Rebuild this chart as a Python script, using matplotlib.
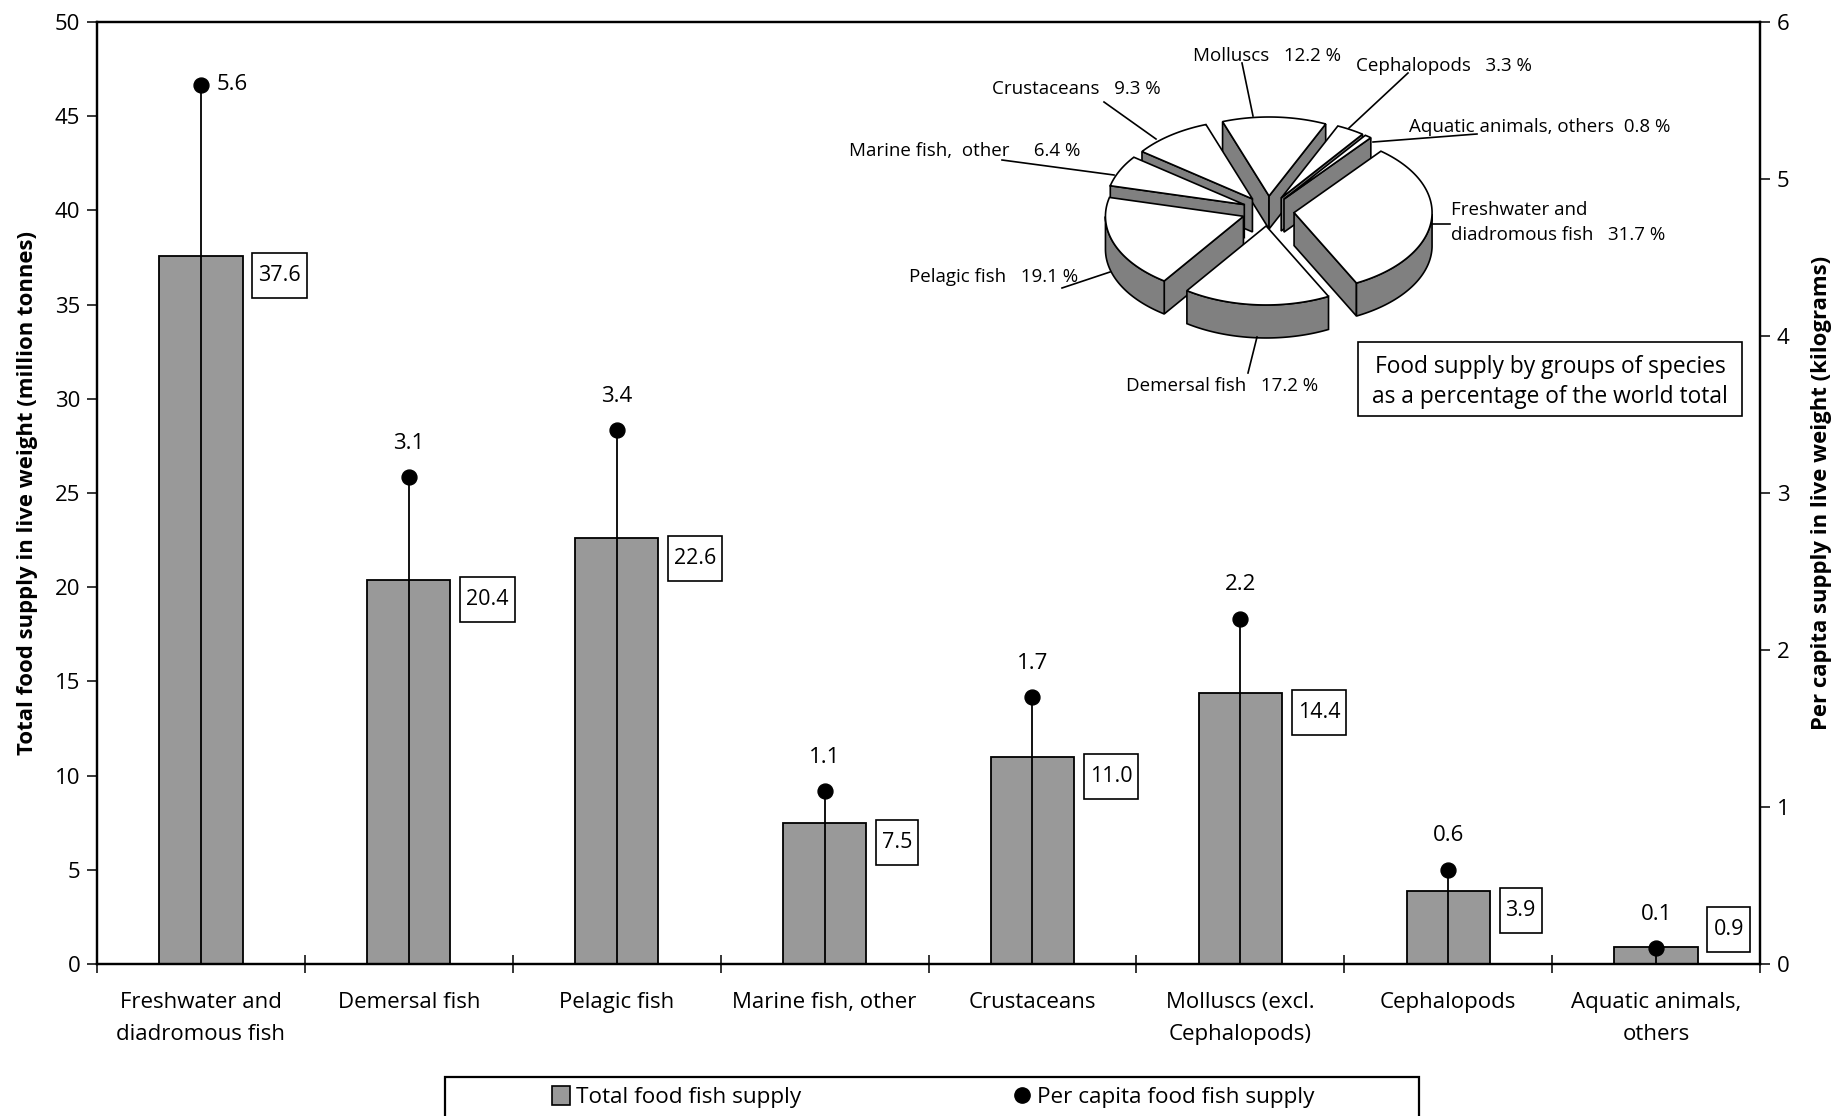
import numpy as np
import matplotlib
matplotlib.use('Agg')
import matplotlib.pyplot as plt
from matplotlib.patches import Polygon, Rectangle
from matplotlib.lines import Line2D
from matplotlib.path import Path

categories = ['Freshwater and\ndiadromous fish', 'Demersal fish', 'Pelagic fish', 'Marine fish, other',
              'Crustaceans', 'Molluscs (excl.\nCephalopods)', 'Cephalopods', 'Aquatic animals,\nothers']
total_supply = [37.6, 20.4, 22.6, 7.5, 11.0, 14.4, 3.9, 0.9]
per_capita = [5.6, 3.1, 3.4, 1.1, 1.7, 2.2, 0.6, 0.1]
pie_shares = [31.7, 17.2, 19.1, 6.4, 9.3, 12.2, 3.3, 0.8]
total_ticks = [0, 5, 10, 15, 20, 25, 30, 35, 40, 45, 50]
capita_ticks = [0, 1, 2, 3, 4, 5, 6]

plt.rcParams['font.family'] = ['Open Sans', 'DejaVu Sans']
W, H = 1836, 1116
BAR_GREY = '#999999'
WALL_GREY = '#808080'


def tall_box(x0, y0, width, height, mutation_size):
    # the value boxes are narrower and taller than a square pad gives
    px, py = 0.28 * mutation_size, 0.56 * mutation_size
    x0, y0, x1, y1 = x0 - px, y0 - py, x0 + width + px, y0 + height + py
    return Path([(x0, y0), (x1, y0), (x1, y1), (x0, y1), (x0, y0)], closed=True)


fig = plt.figure(figsize=(W / 100, H / 100), dpi=100)
ax = fig.add_axes([97 / W, 1 - 964 / H, 1663 / W, 942 / H])
x = np.arange(len(categories))

bars = ax.bar(x, total_supply, width=0.4, color=BAR_GREY, edgecolor='black', linewidth=1.3, zorder=2)
ax.set_xlim(-0.5, 7.5)
ax.set_ylim(0, 50)
ax.set_yticks(total_ticks)
ax.set_xticks(x, categories, fontsize=16, linespacing=1.7)
ax.set_xticks(np.arange(-0.5, 8), minor=True)
ax.tick_params(axis='x', which='major', length=0, pad=20)
ax.tick_params(axis='x', which='minor', length=13, width=1.1, direction='inout')
ax.tick_params(axis='y', length=7, width=1.1, labelsize=16, pad=5)
ax.set_ylabel('Total food supply in live weight (million tonnes)', fontsize=15.9, fontweight='bold')
ax.yaxis.set_label_coords(-0.0355, 0.5)
for s in ax.spines.values():
    s.set_linewidth(1.6)

# boxed totals beside each bar
for i, v in enumerate(total_supply):
    off = 12.6 if v < 1 else -14.4
    ax.annotate(f'{v:.1f}', xy=(i + 0.276, v), xytext=(0, off), textcoords='offset points',
                ha='left', va='center', fontsize=15.5, zorder=3,
                bbox=dict(boxstyle=tall_box, fc='white', ec='black', lw=1.2))

ax2 = ax.twinx()
ax2.set_ylim(0, 6)
ax2.set_yticks(capita_ticks)
ax2.tick_params(axis='y', length=7, width=1.1, labelsize=16, pad=5)
ax2.set_ylabel('Per capita supply in live weight (kilograms)', fontsize=15.9, fontweight='bold')
ax2.yaxis.set_label_coords(1.0305, 0.5)
for s in ax2.spines.values():
    s.set_linewidth(1.6)
ax2.vlines(x, 0, per_capita, color='black', linewidth=1.3, zorder=3)
dots = ax2.scatter(x, per_capita, s=115, color='black', zorder=4, clip_on=False)
for i, v in enumerate(per_capita):
    if i == 0:
        ax2.annotate(f'{v:.1f}', xy=(i, v), xytext=(11, 0), textcoords='offset points',
                     ha='left', va='center', fontsize=16)
    else:
        ax2.annotate(f'{v:.1f}', xy=(i, v), xytext=(0, 24.5), textcoords='offset points',
                     ha='center', va='center', fontsize=16)

# overlay in pixel coordinates for the pie inset and the legend frame
ov = fig.add_axes([0, 0, 1, 1], facecolor='none')
ov.set_xlim(0, W)
ov.set_ylim(H, 0)
ov.axis('off')

cx, cy, rx, ry, depth, explode = 1268, 211, 138, 79, 33, 0.19
start = 51.0
edges = start - np.cumsum([0] + pie_shares) * 3.6
slices = []
for i in range(len(pie_shares)):
    a0, a1 = edges[i], edges[i + 1]
    mid = np.radians((a0 + a1) / 2)
    ox = cx + explode * rx * np.cos(mid)
    oy = cy - explode * ry * np.sin(mid)
    t = np.radians(np.linspace(a0, a1, 80))
    arc = np.column_stack([ox + rx * np.cos(t), oy - ry * np.sin(t)])
    front = arc[np.sin(t) <= 0]
    slices.append((oy, np.array([ox, oy]), arc, front))


def cross(a, b):
    return a[0] * b[1] - a[1] * b[0]


# back slices first, walls only where they face the viewer
shift = np.array([0, depth])
for oy, apex, arc, front in sorted(slices, key=lambda s: s[0]):
    inner = arc[len(arc) // 2] - apex
    for end in (arc[0], arc[-1]):
        d = end - apex
        if cross(d, shift) * cross(d, inner) < 0:
            ov.add_patch(Polygon([apex, end, end + shift, apex + shift], fc=WALL_GREY, ec='black', lw=1.2))
    if len(front) > 1:
        ov.add_patch(Polygon(np.vstack([front, (front + shift)[::-1]]), fc=WALL_GREY, ec='black', lw=1.2))
    ov.add_patch(Polygon(np.vstack([apex, arc]), fc='white', ec='black', lw=1.2))

leaders = [((1242, 63), (1253, 116)), ((1408, 73), (1349, 128)), ((1104, 102), (1156, 139)),
           ((1477, 134), (1373, 142)), ((1002, 160), (1114, 175)), ((1450, 224), (1432, 224)),
           ((1062, 288), (1110, 272)), ((1248, 373), (1257, 337))]
for p, q in leaders:
    ov.plot([p[0], q[0]], [p[1], q[1]], color='black', lw=1.2)

pie_fs = 13.5
ov.text(1193, 56, 'Molluscs   12.2 %', fontsize=pie_fs, va='center')
ov.text(1356, 66, 'Cephalopods   3.3 %', fontsize=pie_fs, va='center')
ov.text(992, 89, 'Crustaceans   9.3 %', fontsize=pie_fs, va='center')
ov.text(1409, 127, 'Aquatic animals, others  0.8 %', fontsize=pie_fs, va='center')
ov.text(849, 151, 'Marine fish,  other     6.4 %', fontsize=pie_fs, va='center')
ov.text(1451, 210, 'Freshwater and', fontsize=pie_fs, va='center')
ov.text(1451, 235, 'diadromous fish   31.7 %', fontsize=pie_fs, va='center')
ov.text(909, 277, 'Pelagic fish   19.1 %', fontsize=pie_fs, va='center')
ov.text(1126, 386, 'Demersal fish   17.2 %', fontsize=pie_fs, va='center')

ov.add_patch(Rectangle((1358, 342), 384, 74, fc='white', ec='black', lw=1.2))
ov.text(1550, 382, 'Food supply by groups of species\nas a percentage of the world total',
        fontsize=16.4, ha='center', va='center', linespacing=1.3)

# legend box runs off the bottom of the page
ov.add_patch(Rectangle((445, 1077), 974, 80, fc='white', ec='black', lw=1.6, clip_on=True))
handles = [Rectangle((0, 0), 1, 1, fc=BAR_GREY, ec='black', lw=1.2),
           Line2D([], [], linestyle='none', marker='o', color='black', markersize=11)]
fig.legend(handles, ['Total food fish supply', 'Per capita food fish supply'], ncol=2, frameon=False,
           loc='center left', bbox_to_anchor=(552 / W, 1 - 1097 / H), borderaxespad=0, borderpad=0,
           fontsize=16.2, handlelength=0.8, handleheight=0.9, handletextpad=0.25, columnspacing=9.45)

fig.savefig('out.png', dpi=100)
